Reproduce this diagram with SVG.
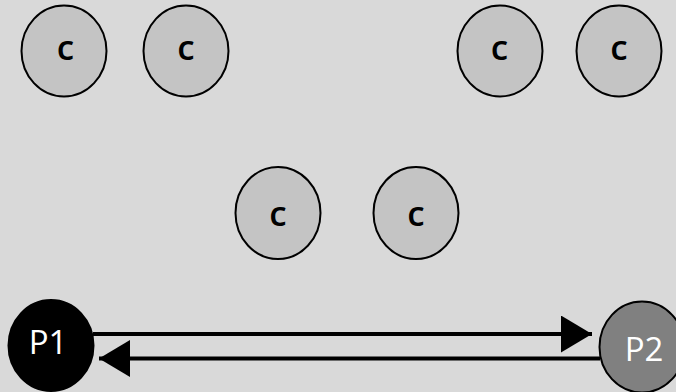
<svg xmlns="http://www.w3.org/2000/svg" width="676" height="392" viewBox="0 0 676 392">
  <defs>
    <style>
      .c { fill: #c4c4c4; stroke: #000; stroke-width: 2; }
      .lbl { font-family: "Open Sans", "Noto Sans", sans-serif; font-size: 35px; font-weight: 600; text-anchor: middle; fill: #000; }
      .wlbl { font-family: "Open Sans", "Noto Sans", sans-serif; font-size: 33px; text-anchor: middle; fill: #fff; }
      .conn { stroke: #000; stroke-width: 4; fill: none; }
    </style>
    <marker id="arr" markerUnits="userSpaceOnUse" markerWidth="31" markerHeight="37" viewBox="0 0 31 37" refX="31" refY="18.5" orient="auto">
      <path d="M0,0 L31,18.5 L0,37 z" fill="#000"/>
    </marker>
  </defs>
  <rect width="676" height="392" fill="#d9d9d9"/>

  <g id="c1"><ellipse class="c" cx="64" cy="51" rx="42.5" ry="45.5"/><text class="lbl" x="65.5" y="59.5">c</text></g>
  <g id="c2"><ellipse class="c" cx="186" cy="51" rx="42.5" ry="45.5"/><text class="lbl" x="186" y="59.5">c</text></g>
  <g id="c3"><ellipse class="c" cx="500" cy="51" rx="42.5" ry="45.5"/><text class="lbl" x="499.5" y="59.5">c</text></g>
  <g id="c4"><ellipse class="c" cx="619" cy="51" rx="42.5" ry="45.5"/><text class="lbl" x="619" y="59.5">c</text></g>
  <g id="c5"><ellipse class="c" cx="278" cy="213" rx="42.5" ry="46"/><text class="lbl" x="278" y="225.5">c</text></g>
  <g id="c6"><ellipse class="c" cx="416" cy="213" rx="42.5" ry="46"/><text class="lbl" x="416" y="225.5">c</text></g>

  <g id="connectors">
    <line class="conn" x1="93" y1="334" x2="592" y2="334" marker-end="url(#arr)"/>
    <line class="conn" x1="600" y1="358.5" x2="99" y2="358.5" marker-end="url(#arr)"/>
  </g>

  <g id="P1"><ellipse cx="51" cy="345.5" rx="42.5" ry="45.5" fill="#000" stroke="#000" stroke-width="2"/><text class="wlbl" x="48" y="354">P1</text></g>
  <g id="P2"><ellipse cx="642" cy="347" rx="42.5" ry="45.5" fill="#808080" stroke="#000" stroke-width="2"/><text class="wlbl" x="644" y="361">P2</text></g>
</svg>
